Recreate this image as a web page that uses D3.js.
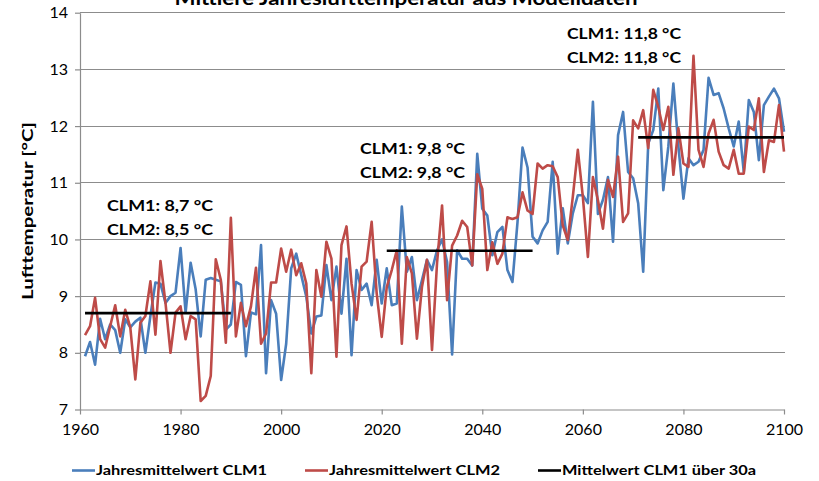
<!DOCTYPE html>
<html><head><meta charset="utf-8">
<script src="https://cdn.jsdelivr.net/npm/d3@7"></script>
<style>
html,body{margin:0;padding:0;background:#fff;}
svg{display:block;font-family:Lato,"Open Sans",sans-serif;}
</style></head>
<body>
<svg id="chart" width="819" height="481"></svg>
<script>
const title = "Mittlere Jahreslufttemperatur aus Modelldaten";
const yAxisTitle = "Lufttemperatur [°C]";
const startYear = 1961;
const clm1 = [
7.94,8.19,7.79,8.60,8.24,8.50,8.40,8.00,8.59,8.45,
8.55,8.62,8.00,8.65,9.24,9.22,8.88,9.00,9.06,9.85,
8.71,9.59,9.12,8.29,9.29,9.32,9.29,9.26,8.41,8.50,
9.25,9.20,7.94,8.71,8.68,9.90,7.64,8.93,8.69,7.52,
8.16,9.49,9.75,9.37,8.99,8.34,8.64,8.66,9.55,8.93,
9.52,8.69,9.66,7.96,9.46,9.11,9.22,8.84,9.64,8.87,
9.49,8.84,8.87,10.58,9.43,9.69,8.93,9.28,9.64,9.46,
9.81,10.00,9.60,7.97,9.81,9.66,9.66,9.54,11.51,10.54,
10.42,9.72,10.13,10.22,9.46,9.25,10.30,11.62,11.27,10.05,
9.93,10.16,10.31,11.37,9.75,10.55,9.93,10.46,10.78,10.78,
10.64,12.43,10.45,10.70,11.10,9.96,11.84,12.25,11.19,11.08,
10.64,9.43,11.69,11.93,12.66,10.87,11.64,12.75,11.64,10.72,
11.43,11.31,11.37,11.58,12.85,12.55,12.58,12.31,11.96,11.64,
12.08,11.19,12.46,12.25,11.40,12.37,12.52,12.66,12.49,11.90
];
const clm2 = [
8.31,8.47,8.97,8.24,8.09,8.47,8.84,8.29,8.76,8.45,
7.53,8.53,8.65,9.26,8.32,9.62,8.88,8.00,8.71,8.82,
8.24,8.65,8.59,7.15,7.24,7.59,9.65,9.29,8.18,10.38,
8.29,8.88,8.47,8.82,9.50,8.16,8.34,9.24,9.24,9.84,
9.43,9.82,9.37,9.58,9.22,7.64,9.46,8.99,9.96,9.66,
7.93,9.90,10.23,9.22,8.58,9.52,9.61,10.31,9.05,8.28,
9.16,9.46,9.81,8.16,9.69,9.40,8.25,9.16,9.64,8.05,
9.58,10.60,8.93,9.89,10.07,10.33,10.22,9.54,11.15,10.89,
9.46,9.95,9.57,9.75,10.39,10.36,10.39,10.83,10.51,10.45,
11.34,11.25,11.31,11.29,11.10,10.25,9.99,10.75,11.58,10.75,
9.69,11.10,10.69,10.19,11.05,10.75,11.46,10.31,10.46,12.10,
11.96,12.28,11.61,12.64,12.34,11.93,12.34,11.14,11.96,11.34,
11.28,13.24,11.58,11.28,11.87,12.11,11.55,11.31,11.25,11.58,
11.16,11.16,11.99,11.93,12.49,11.19,11.75,11.72,12.37,11.55
];
const periodStart = [1961, 2021, 2071];
const periodEnd   = [1990, 2050, 2100];
const periodMean  = [8.7, 9.8, 11.8];
const annotLine1 = ["CLM1: 8,7 °C", "CLM1: 9,8 °C", "CLM1: 11,8 °C"];
const annotLine2 = ["CLM2: 8,5 °C", "CLM2: 9,8 °C", "CLM2: 11,8 °C"];
const xTicks = [1960, 1980, 2000, 2020, 2040, 2060, 2080, 2100];
const yTicks = [7, 8, 9, 10, 11, 12, 13, 14];
const legendLabels = ["Jahresmittelwert CLM1", "Jahresmittelwert CLM2", "Mittelwert CLM1 über 30a"];
const colors = ["#4a7ebb", "#be4b48", "#000000"];

const years = clm1.map((_, i) => startYear + i);
const svg = d3.select("#chart");
const L = 80, R = 784, T = 12.7, B = 409.5;
const x = d3.scaleLinear().domain([1960, 2100]).range([L, R]);
const y = d3.scaleLinear().domain([7, 14]).range([B, T]);

// gridlines
svg.append("g").selectAll("line").data(yTicks.filter(v => v > 7)).join("line")
  .attr("x1", L).attr("x2", R + 1).attr("y1", d => y(d)).attr("y2", d => y(d))
  .attr("stroke", "#8c8c8c").attr("stroke-width", 1).attr("shape-rendering", "crispEdges");

// axes
const xAxis = svg.append("g").attr("transform", `translate(0,${y(7)})`)
  .call(d3.axisBottom(x).tickValues(xTicks).tickFormat(d3.format("d")).tickSizeInner(5).tickSizeOuter(0).tickPadding(9));
const yAxis = svg.append("g").attr("transform", `translate(${L},0)`)
  .call(d3.axisLeft(y).tickValues(yTicks).tickFormat(d3.format("d")).tickSizeInner(5).tickSizeOuter(0).tickPadding(7));
[xAxis, yAxis].forEach(g => {
  g.select(".domain").attr("stroke", "#8c8c8c").attr("stroke-width", 1.2);
  g.selectAll(".tick line").attr("stroke", "#8c8c8c").attr("stroke-width", 1.2);
  g.selectAll(".tick text").attr("fill", "#000").style("font-size", "16px").style("font-family", "Lato, sans-serif");
});
xAxis.selectAll(".tick text").attr("dy", "0.71em");

// series lines
const line = d3.line().x(d => x(d[0])).y(d => y(d[1]));
[clm1, clm2].forEach((s, k) => {
  svg.append("path").datum(s.map((v, i) => [years[i], v]))
    .attr("d", line).attr("fill", "none").attr("stroke", colors[k])
    .attr("stroke-width", 2.6).attr("stroke-linejoin", "round");
});
// period means
svg.append("g").selectAll("line").data(periodMean).join("line")
  .attr("x1", (d, i) => x(periodStart[i])).attr("x2", (d, i) => x(periodEnd[i]))
  .attr("y1", d => y(d)).attr("y2", d => y(d))
  .attr("stroke", "#000").attr("stroke-width", 2.6);

// annotations
const annX = [107, 360, 567];
const annY = [211, 154, 39];
const annW1 = [106, 105, 114];
annLines = [annotLine1, annotLine2];
annotLine1.forEach((t, i) => {
  [annotLine1[i], annotLine2[i]].forEach((txt, j) => {
    svg.append("text").attr("x", annX[i]).attr("y", annY[i] + j * 23.5)
      .text(txt).style("font-size", "16px").style("font-weight", "bold")
      .attr("textLength", annW1[i]).attr("lengthAdjust", "spacingAndGlyphs");
  });
});

// title
svg.append("text").attr("x", 406).attr("y", 5).attr("text-anchor", "middle")
  .text(title).style("font-size", "18px").style("font-weight", "bold")
  .attr("textLength", 463).attr("lengthAdjust", "spacingAndGlyphs");

// y axis title
svg.append("text").attr("transform", "translate(33,211) rotate(-90)").attr("text-anchor", "middle")
  .text(yAxisTitle).style("font-size", "15px").style("font-weight", "bold")
  .attr("textLength", 178).attr("lengthAdjust", "spacingAndGlyphs");

// legend
const legX = [72, 305, 538];
const legW = [171, 171, 194];
legendLabels.forEach((lab, i) => {
  svg.append("line").attr("x1", legX[i]).attr("x2", legX[i] + 23).attr("y1", 470.5).attr("y2", 470.5)
    .attr("stroke", colors[i]).attr("stroke-width", 2.6);
  svg.append("text").attr("x", legX[i] + 24).attr("y", 475).text(lab)
    .style("font-size", "14px").style("font-weight", "bold")
    .attr("textLength", legW[i]).attr("lengthAdjust", "spacingAndGlyphs");
});
</script>
</body></html>
